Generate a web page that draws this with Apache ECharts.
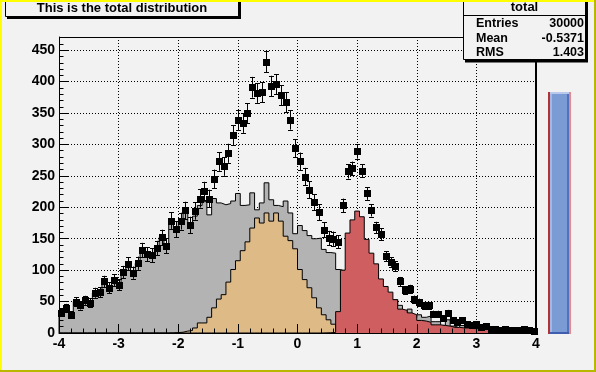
<!DOCTYPE html>
<html><head><meta charset="utf-8">
<script src="https://cdn.jsdelivr.net/npm/echarts@6/dist/echarts.min.js"></script>
<style>html,body{margin:0;padding:0;background:#f2f2f2;}#c{width:596px;height:372px;}</style>
</head><body><div id="c"></div>
<script>
// ---- data ----
const xMin = -4, xMax = 4;
const xTickLabels = [-4, -3, -2, -1, 0, 1, 2, 3, 4];
const yTickLabels = [0, 50, 100, 150, 200, 250, 300, 350, 400, 450];

const totalHist = [
  32,40,29,50,44,52,48,64,65,82,
  72,84,77,97,110,96,111,132,125,124,
  135,152,139,179,165,178,195,172,194,214,
  226,214,245,273,265,286,315,339,334,350,
  391,382,383,432,393,396,378,367,339,294,
  273,249,228,208,192,164,151,150,145,203,
  257,262,289,258,222,195,168,157,122,113,
  106,82,68,70,54,49,44,44,31,31,
  24,32,20,17,20,15,12,15,10,11,
  6,6,5,6,5,5,4,6,4,3];

const mainHist = [
  32,40,29,50,44,52,48,64,65,82,
  72,84,77,97,110,96,111,132,125,124,
  135,152,139,179,165,178,191,168,186,203,
  209,188,214,207,204,206,210,222,203,204,
  223,196,207,239,212,203,201,210,191,158,
  171,163,155,150,151,133,128,127,101,98,
  94,80,95,73,73,68,58,71,48,48,
  53,44,32,38,25,29,25,27,18,18,
  12,21,11,8,12,7,5,8,4,5,
  1,1,0,2,1,1,1,3,1,0];

const s1Hist = [
  0,0,0,0,0,0,0,0,0,0,
  0,0,0,0,0,0,0,0,0,0,
  0,0,0,0.3,0.6,1.2,3,4,8,16,
  16,25,40,54,61,81,101,115,131,145,
  167,183,175,191,178,191,178,154,147,134,
  101,85,72,56,40,29,21,14,4,1,
  0.6,0.3,0,0,0,0,0,0,0,0,
  0,0,0,0,0,0,0,0,0,0,
  0,0,0,0,0,0,0,0,0,0,
  0,0,0,0,0,0,0,0,0,0];

const s2Hist = [
  0,0,0,0,0,0,0,0,0,0,
  0,0,0,0,0,0,0,0,0,0,
  0,0,0,0,0,0,0,0,0,0,
  0,0,0,0,0,0,0,0,0,0,
  0,0,0,0,0,0,0,0,0,0,
  0,0,0,0,0,0.2,0.4,1,34,100,
  159,180,194,185,149,127,110,86,74,65,
  53,38,36,32,29,20,19,17,13,13,
  12,11,9,9,8,8,7,7,6,6,
  5,5,5,4,4,4,3,3,3,3];

const titleText = 'This is the total distribution';
const statsTitle = 'total';
const statsLabels = ['Entries', 'Mean', 'RMS'];
const statsValues = ['30000', '-0.5371', '1.403'];

// ---- build ----
const nBins = totalHist.length;
const bw = (xMax - xMin) / nBins;
function stepData(vals) {
  const d = [[xMin, 0]];
  vals.forEach((v, i) => d.push([xMin + i * bw, v]));
  d.push([xMax, vals[vals.length - 1]]);
  d.push([xMax, 0]);
  return d;
}
const centers = totalHist.map((_, i) => xMin + (i + 0.5) * bw);
const errData = totalHist.map((v, i) => {
  const e = Math.sqrt(mainHist[i] + 0.3 * s1Hist[i] + 0.2 * s2Hist[i]);
  return [centers[i], v, v - e, v + e];
});

const BG = '#f2f2f2';
const FONT = '"Liberation Sans", Arial, sans-serif';
const yMax = 471;

const chart = echarts.init(document.getElementById('c'), null, {renderer: 'canvas'});

function histSeries(vals, color, z) {
  return {
    type: 'line', step: 'end', data: stepData(vals), z: z,
    xAxisIndex: 0, yAxisIndex: 0,
    showSymbol: false, symbol: 'none', silent: true,
    lineStyle: {color: '#000', width: 1},
    areaStyle: {color: color, opacity: 1},
    animation: false
  };
}

const graphics = [];
// title box
graphics.push({type: 'rect', z: 100, shape: {x: 7, y: 0, width: 234, height: 19}, style: {fill: '#000'}});
graphics.push({type: 'rect', z: 101, shape: {x: 5.5, y: -1.5, width: 233, height: 18}, style: {fill: BG, stroke: '#000', lineWidth: 1}});
graphics.push({type: 'text', z: 102, x: 122, y: 8.5, style: {text: titleText, font: 'bold 13px ' + FONT, fill: '#000', align: 'center', verticalAlign: 'middle'}});
// stats box
graphics.push({type: 'rect', z: 100, shape: {x: 465, y: 0, width: 123, height: 62.5}, style: {fill: '#000'}});
graphics.push({type: 'rect', z: 101, shape: {x: 463.5, y: -1.5, width: 122, height: 61}, style: {fill: BG, stroke: '#000', lineWidth: 1}});
graphics.push({type: 'line', z: 102, shape: {x1: 463.5, y1: 15.5, x2: 585.5, y2: 15.5}, style: {stroke: '#000', lineWidth: 1}});
graphics.push({type: 'text', z: 102, x: 524.5, y: 7.5, style: {text: statsTitle, font: 'bold 13px ' + FONT, fill: '#000', align: 'center', verticalAlign: 'middle'}});
const rowY = [24, 38.5, 52.5];
statsLabels.forEach((l, i) => {
  graphics.push({type: 'text', z: 102, x: 476, y: rowY[i], style: {text: l, font: 'bold 12.5px ' + FONT, fill: '#000', align: 'left', verticalAlign: 'middle'}});
  graphics.push({type: 'text', z: 102, x: 584, y: rowY[i], style: {text: statsValues[i], font: 'bold 12.5px ' + FONT, fill: '#000', align: 'right', verticalAlign: 'middle'}});
});
// frame top and right
graphics.push({type: 'line', z: 50, shape: {x1: 59, y1: 37.5, x2: 537, y2: 37.5}, style: {stroke: '#000', lineWidth: 1}});
graphics.push({type: 'rect', z: 50, shape: {x: 535, y: 37, width: 2, height: 297}, style: {fill: '#000'}});
// slider
graphics.push({type: 'rect', z: 60, shape: {x: 548, y: 92, width: 23, height: 242}, style: {fill: '#b03434'}});
graphics.push({type: 'rect', z: 61, shape: {x: 569, y: 92, width: 2, height: 242}, style: {fill: '#e58a8a'}});
graphics.push({type: 'rect', z: 61, shape: {x: 550, y: 92, width: 19, height: 242}, style: {fill: '#7b9bd4'}});
graphics.push({type: 'rect', z: 62, shape: {x: 550, y: 92, width: 19, height: 2}, style: {fill: '#b9c9ee'}});
graphics.push({type: 'rect', z: 62, shape: {x: 550, y: 94, width: 2, height: 238}, style: {fill: '#a3b7e6'}});
graphics.push({type: 'rect', z: 62, shape: {x: 567, y: 94, width: 2, height: 238}, style: {fill: '#5172c0'}});
graphics.push({type: 'rect', z: 62, shape: {x: 550, y: 332, width: 19, height: 2}, style: {fill: '#3f5fae'}});
// canvas highlight border
graphics.push({type: 'rect', z: 200, shape: {x: 0, y: 0, width: 596, height: 2}, style: {fill: '#ffff00'}});
graphics.push({type: 'rect', z: 200, shape: {x: 0, y: 0, width: 2, height: 372}, style: {fill: '#ffff00'}});
graphics.push({type: 'rect', z: 200, shape: {x: 594, y: 0, width: 2, height: 372}, style: {fill: '#b8b800'}});
graphics.push({type: 'rect', z: 200, shape: {x: 0, y: 370, width: 596, height: 2}, style: {fill: '#b8b800'}});

const dotted = {color: '#000', width: 1, type: [1, 2]};
const tickFont = {fontFamily: FONT, fontWeight: 'bold', fontSize: 14, color: '#000'};
const hidden = {show: false};

const option = {
  backgroundColor: BG,
  animation: false,
  grid: {left: 59, top: 37, width: 477, height: 296, containLabel: false, outerBoundsMode: 'none', show: false},
  xAxis: [
    {type: 'value', min: xMin, max: xMax, interval: 1, position: 'bottom', z: 0,
     axisLine: {show: false, onZero: false}, axisTick: hidden, axisLabel: hidden,
     splitLine: {show: true, lineStyle: dotted}},
    {type: 'value', min: xMin, max: xMax, interval: 1, position: 'bottom', z: 10,
     axisLine: {show: true, onZero: false, lineStyle: {color: '#000', width: 1}},
     axisTick: {show: true, inside: true, length: 9, lineStyle: {color: '#000', width: 1}},
     axisLabel: Object.assign({show: true, margin: 4,
        formatter: v => (xTickLabels.indexOf(Math.round(v)) >= 0 && Math.abs(v - Math.round(v)) < 1e-6) ? String(Math.round(v)) : ''}, tickFont),
     splitLine: hidden},
    {type: 'value', min: xMin, max: xMax, interval: 0.2, position: 'bottom', z: 10,
     axisLine: {show: false, onZero: false},
     axisTick: {show: true, inside: true, length: 4.5, lineStyle: {color: '#000', width: 1}},
     axisLabel: hidden, splitLine: hidden}
  ],
  yAxis: [
    {type: 'value', min: 0, max: yMax, interval: 50, position: 'left', z: 0,
     axisLine: {show: false, onZero: false}, axisTick: hidden, axisLabel: hidden,
     splitLine: {show: true, lineStyle: dotted}},
    {type: 'value', min: 0, max: yMax, interval: 50, position: 'left', z: 10,
     axisLine: {show: true, onZero: false, lineStyle: {color: '#000', width: 1}},
     axisTick: {show: true, inside: true, length: 9, lineStyle: {color: '#000', width: 1}},
     axisLabel: Object.assign({show: true, margin: 4, showMaxLabel: false,
        formatter: v => (yTickLabels.indexOf(v) >= 0 ? String(v) : '')}, tickFont),
     splitLine: hidden},
    {type: 'value', min: 0, max: yMax, interval: 10, position: 'left', z: 10,
     axisLine: {show: false, onZero: false},
     axisTick: {show: true, inside: true, length: 4.5, lineStyle: {color: '#000', width: 1}},
     axisLabel: hidden, splitLine: hidden}
  ],
  series: [
    histSeries(mainHist, '#b3b3b3', 2),
    histSeries(s1Hist, '#deba87', 3),
    histSeries(s2Hist, '#cf5e61', 4),
    {type: 'custom', z: 6, xAxisIndex: 0, yAxisIndex: 0, data: errData, silent: true,
     encode: {x: 0, y: [1, 2, 3]},
     renderItem: function (params, api) {
       const x = api.value(0), v = api.value(1), lo = api.value(2), hi = api.value(3);
       const a = api.coord([x, hi]), b = api.coord([x, lo]), m = api.coord([x, v]);
       const cx = Math.round(m[0]) + 0.5, cw = 2.5;
       const st = {stroke: '#000', lineWidth: 1};
       const my = Math.round(m[1]);
       return {type: 'group', children: [
         {type: 'line', shape: {x1: cx, y1: a[1], x2: cx, y2: b[1]}, style: st},
         {type: 'line', shape: {x1: cx - cw, y1: Math.round(a[1]) + 0.5, x2: cx + cw, y2: Math.round(a[1]) + 0.5}, style: st},
         {type: 'line', shape: {x1: cx - cw, y1: Math.round(b[1]) + 0.5, x2: cx + cw, y2: Math.round(b[1]) + 0.5}, style: st},
         {type: 'rect', shape: {x: Math.round(m[0]) - 3, y: my - 3, width: 7, height: 7}, style: {fill: '#000'}}
       ]};
     }}
  ],
  graphic: graphics
};
chart.setOption(option);
</script>
</body></html>
